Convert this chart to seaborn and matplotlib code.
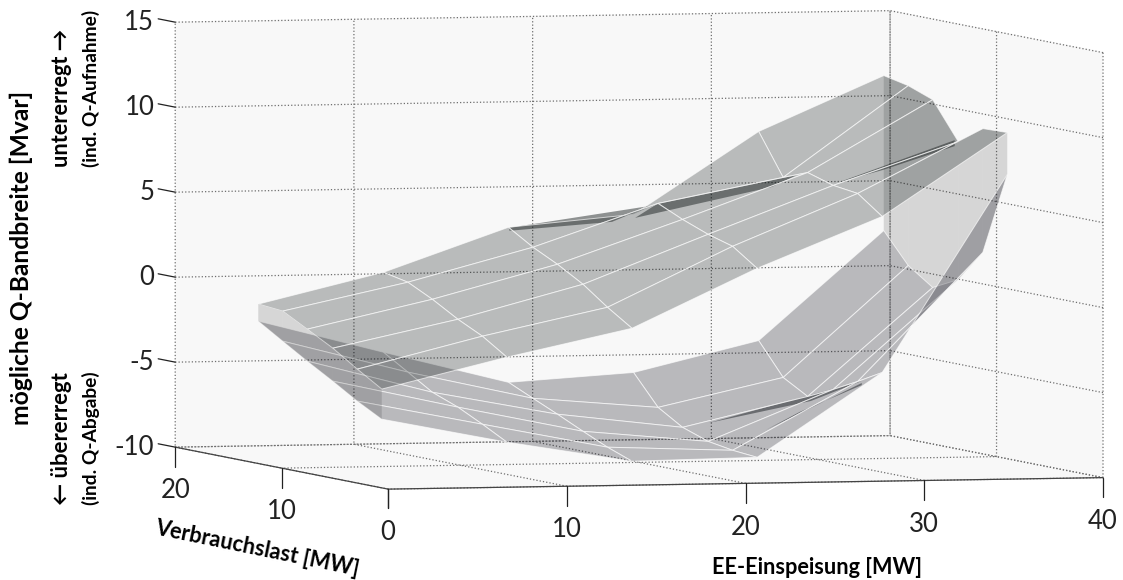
import numpy as np
import matplotlib
matplotlib.use('Agg')
import matplotlib.pyplot as plt
import seaborn as sns

# grid of the band surfaces
ee = [0, 7, 14, 21, 28, 35]
last = [0.6, 2.9, 5.2, 7.6, 9.9, 12.2]

# upper limit of Q, one row per load value
q_upper = [
    [-4.19, -2.43, -0.85, 2.56, 5.49, 10.31],
    [-3.30, -1.48, 0.10, 3.57, 6.56, 10.26],
    [-2.35, -0.77, 1.17, 3.99, 6.75, 9.21],
    [-1.53, 0.11, 2.05, 4.57, 7.21, 11.38],
    [-0.75, 0.83, 2.77, 5.23, 6.64, 11.92],
    [-0.62, 1.13, 3.66, 4.30, 9.06, 12.23],
]

# lower limit of Q
q_lower = [
    [-5.96, -7.43, -8.67, -8.56, -3.69, 7.84],
    [-5.18, -6.66, -8.13, -8.43, -4.50, 2.97],
    [-4.29, -5.94, -7.48, -8.19, -5.25, 1.09],
    [-3.41, -5.36, -6.77, -7.66, -5.96, 0.33],
    [-2.52, -4.46, -6.12, -6.77, -5.13, 1.34],
    [-1.62, -3.57, -5.46, -5.00, -3.24, 3.11],
]

# thin folds of the sheets, seen edge on (all at load 9.9)
fold_last = 9.9
fold_ee = [
    [[12.65, 20.52], [12.65, 18.40]],
    [[20.92, 28.74], [19.69, 27.34]],
    [[31.14, 37.57], [33.54, 37.57]],
    [[23.82, 32.37], [29.52, 32.37]],
    [[27.00, 32.37], [28.90, 32.37]],
]
fold_q = [
    [[3.97, 5.12], [3.79, 4.22]],
    [[5.23, 6.80], [4.43, 6.12]],
    [[6.35, 8.70], [7.01, 8.35]],
    [[-7.70, -5.38], [-6.51, -5.38]],
    [[-8.17, -5.50], [-7.14, -5.62]],
]

ee_ticks = [0, 10, 20, 30, 40]
last_ticks = [0, 10, 20]
last_tick_labels = ['', '10', '20']
q_ticks = [-10, -5, 0, 5, 10, 15]

W, H = 1123, 580

sns.set_theme(style='white', rc={
    'grid.linestyle': ':',
    'grid.linewidth': 0.9,
    'grid.color': '#6e6e6e',
    'axes.unicode_minus': False,
    'xtick.color': '#222222',
    'ytick.color': '#222222',
})
plt.rcParams['font.family'] = ['Lato', 'DejaVu Sans']

fig = plt.figure(figsize=(W / 100, H / 100), dpi=100, facecolor='white')
# 600 px square axes, placed so the box centre lands on (639, 250)
ax = fig.add_axes([331 / W, 22 / H, 600 / W, 600 / H], projection='3d')
ax.set_proj_type('ortho')
ax.view_init(elev=3.23, azim=-105.95)
ax.set_xlim(0, 40, view_margin=0)
ax.set_ylim(0, 20, view_margin=0)
ax.set_zlim(-10, 15, view_margin=0)
ax.set_box_aspect((743.6, 775, 425.7), zoom=1.869)
ax.patch.set_alpha(0)

X, Y = np.meshgrid(ee, last)
upper = np.array(q_upper)
lower = np.array(q_lower)

edge = (1, 1, 1, 0.65)
surfs = []
surfs.append(ax.plot_surface(X, Y, lower, color=(0.02, 0.02, 0.07, 0.26), shade=False,
                             edgecolor=edge, linewidth=0.7))
surfs.append(ax.plot_surface(X, Y, upper, color=(0.02, 0.05, 0.05, 0.26), shade=False,
                             edgecolor=edge, linewidth=0.7))

# closed side faces at both ends of the EE range
for col in [0, -1]:
    sx = np.column_stack([X[:, col], X[:, col]])
    sy = np.column_stack([Y[:, col], Y[:, col]])
    sz = np.column_stack([upper[:, col], lower[:, col]])
    surfs.append(ax.plot_surface(sx, sy, sz, color=(0.05, 0.05, 0.05, 0.14), shade=False,
                                 edgecolor=(0, 0, 0, 0), linewidth=0))

for fe, fq in zip(fold_ee, fold_q):
    fe = np.array(fe)
    surfs.append(ax.plot_surface(fe, np.full(fe.shape, fold_last), np.array(fq),
                                 color=(0.05, 0.08, 0.08, 0.45), shade=False,
                                 edgecolor=(0, 0, 0, 0), linewidth=0))

# the axes box is smaller than the projected cube
for s in surfs:
    s.set_clip_on(False)

ax.set_xticks(ee_ticks)
ax.set_yticks(last_ticks)
ax.set_yticklabels(last_tick_labels)
ax.set_zticks(q_ticks)
for axis in [ax.xaxis, ax.yaxis, ax.zaxis]:
    axis.set_pane_color('#f8f8f8')
    axis.pane.set_edgecolor('#f8f8f8')
    axis.line.set_color('#444444')
    axis.line.set_linewidth(0.9)
    axis.set_clip_on(False)
ax.zaxis.line.set_color((0, 0, 0, 0))
ax.tick_params(axis='x', labelsize=18.5, pad=8.5)
ax.tick_params(axis='y', labelsize=18.5, pad=8.5)
ax.tick_params(axis='z', labelsize=18.5, pad=-1.4)

# ticks of the floor axes hang straight down, z axis on the left corner
ax.zaxis.set_ticks_position('upper')
ax.xaxis._get_tickdir = lambda pos: 2
ax.yaxis._get_tickdir = lambda pos: 2
ax.zaxis._get_tickdir = lambda pos: 1
# labels move only along one direction
ax.xaxis._axmask = lambda: [False, False, True]
ax.yaxis._axmask = lambda: [False, False, True]
ax.zaxis._axmask = lambda: [True, False, False]
ax.xaxis._axinfo['tick'].update(inward_factor=0, outward_factor=0.57, linewidth={True: 0.9, False: 0.5})
ax.yaxis._axinfo['tick'].update(inward_factor=0, outward_factor=0.57, linewidth={True: 0.9, False: 0.5})
ax.zaxis._axinfo['tick'].update(inward_factor=0, outward_factor=1.0, linewidth={True: 0.9, False: 0.5})
for lab in ax.get_zticklabels():
    lab.set_horizontalalignment('right')
    lab.set_verticalalignment('center')

bold = dict(fontweight='bold', color='black', rotation_mode='anchor')
fig.text(21 / W, 1 - 258 / H, 'mögliche Q-Bandbreite [Mvar]', rotation=90, fontsize=17.7,
         ha='center', va='center', **bold)
fig.text(62 / W, 1 - 167 / H, 'untererregt →', rotation=90, fontsize=15.6, ha='left', va='center', **bold)
fig.text(91 / W, 1 - 167 / H, '(ind. Q-Aufnahme)', rotation=90, fontsize=13.8, ha='left', va='center', **bold)
fig.text(62 / W, 1 - 505 / H, '← übererregt', rotation=90, fontsize=15.9, ha='left', va='center', **bold)
fig.text(91 / W, 1 - 505 / H, '(ind. Q-Abgabe)', rotation=90, fontsize=13.8, ha='left', va='center', **bold)
fig.text(257 / W, 1 - 549 / H, 'Verbrauchslast [MW]', rotation=-11.6, fontsize=15.7, ha='center', va='center', **bold)
fig.text(817 / W, 1 - 568 / H, 'EE-Einspeisung [MW]', fontsize=15.6, ha='center', va='center', **bold)

fig.savefig('out.png', dpi=100)
